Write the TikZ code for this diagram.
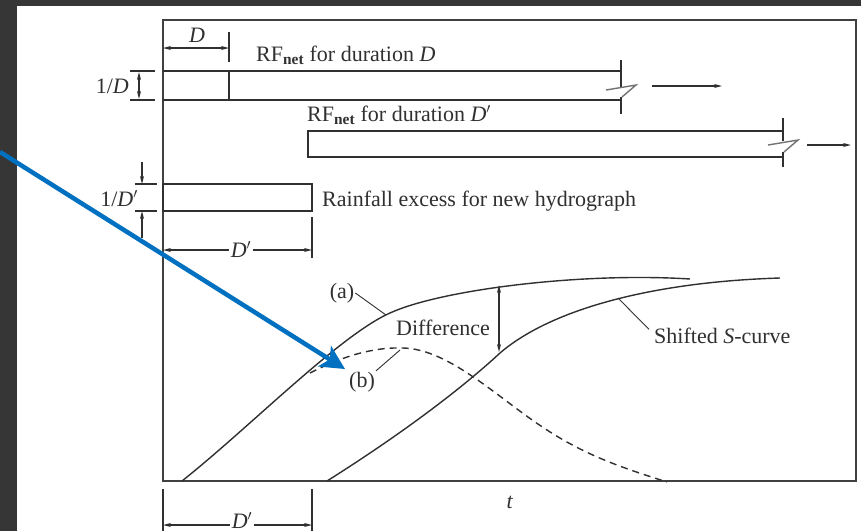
\documentclass[tikz,border=0pt]{standalone}
\usepackage{fontspec}
\setmainfont{Liberation Serif}
\usetikzlibrary{arrows.meta}
\definecolor{inkgray}{HTML}{303030}
\definecolor{pagedark}{HTML}{363636}
\definecolor{markblue}{HTML}{0070C0}

\tikzset{
  ink/.style={draw=inkgray, line width=1.4pt},
  leader/.style={draw=inkgray, line width=0.9pt},
  breakz/.style={draw=black!55, line width=1.4pt},
  dimarrow/.style={ink, {Stealth[length=8pt,width=4pt]}-{Stealth[length=8pt,width=4pt]}},
  onearrow/.style={ink, -{Stealth[length=8pt,width=4pt]}},
  lbl/.style={inner sep=1pt, text=inkgray},
}
\newcommand{\dprime}{\textit{D}$'$}

\begin{document}
\begin{tikzpicture}[x=1pt,y=-1pt,font=\fontsize{22}{24}\selectfont]
\useasboundingbox (0,0) rectangle (861,531);
\fill[pagedark] (0,0) rectangle (861,531);
\fill[white] (17,6) rectangle (861,531);
\draw[line width=1.8pt, draw=black!75] (163,20) rectangle (856,481);

% rainfall of duration D
\node[lbl, anchor=base] (dtop) at (197,42) {\textit{D}};
\coordinate (d0) at (163,48);
\coordinate (d1) at (229,48);
\draw[dimarrow] (d0) -- (d1);
\draw[ink] (229,32) -- (229,62);
\draw[ink] (229,71) -- (229,100);
\node[lbl, anchor=base west] (rfd) at (255,61) {RF\textsubscript{\textbf{net}} for duration \textit{D}};
\draw[ink] (163,71) -- (621,71);
\draw[ink] (163,100) -- (621,100);
\draw[ink] (621,60) -- (621,87);
\draw[breakz] (606,90) -- (636,85) -- (622,97);
\draw[ink] (621,97) -- (621,114);
\coordinate (ra0) at (652,86);
\coordinate (ra1) at (722,86);
\draw[onearrow] (ra0) -- (ra1);
\node[lbl, anchor=base east] (hd) at (130,93) {1/\textit{D}};
\draw[ink] (130,71) -- (155,71);
\draw[ink] (130,100) -- (155,100);
\coordinate (hd0) at (139,72);
\coordinate (hd1) at (139,99);
\draw[dimarrow] (hd0) -- (hd1);

% rainfall of duration D'
\node[lbl, anchor=base west] (rfdd) at (306,121) {RF\textsubscript{\textbf{net}} for duration \dprime};
\draw[ink] (783,131) -- (308,131) -- (308,157) -- (783,157);
\draw[ink] (783,118) -- (783,141);
\draw[breakz] (768,145) -- (798,140) -- (784,152);
\draw[ink] (783,152) -- (783,167);
\coordinate (rb0) at (807,145);
\coordinate (rb1) at (851,145);
\draw[onearrow] (rb0) -- (rb1);

% rainfall excess
\draw[ink] (163,184) rectangle (312,211);
\node[lbl, anchor=base west] (rex) at (321,206) {Rainfall excess for new hydrograph};
\node[lbl, anchor=base east] (hdd) at (139,206) {1/\dprime};
\draw[ink] (135,184) -- (157,184);
\draw[ink] (135,211) -- (157,211);
\coordinate (u0) at (142,162);
\coordinate (u1) at (142,184);
\coordinate (v0) at (142,238);
\coordinate (v1) at (142,211);
\draw[onearrow] (u0) -- (u1);
\draw[onearrow] (v0) -- (v1);
\draw[ink] (312,217) -- (312,258);
\coordinate (e0) at (163,250);
\coordinate (e1) at (312,250);
\draw[dimarrow] (e0) -- (e1);
\node[lbl, anchor=base, fill=white, inner sep=2pt] (dmid) at (241,257) {\dprime};

% curves
\draw[ink] (182,481) .. controls (250,427) and (340,335) .. (390,313)
  .. controls (440,290) and (580,272) .. (690,279);
\draw[ink] (327,481) .. controls (400,435) and (460,390) .. (500,353)
  .. controls (550,310) and (650,282) .. (780,278);
\draw[ink, dashed, dash pattern=on 7pt off 5pt] (310,373) .. controls (345,355) and (375,347) .. (403,348)
  .. controls (450,349) and (500,400) .. (547,430)
  .. controls (590,458) and (630,470) .. (667,482);

\coordinate (ca) at (386,315);
\coordinate (cb) at (400,350);
\coordinate (cs) at (618,298);
\coordinate (dfa) at (499,285);
\coordinate (dfs) at (499,352);
\node[lbl] (la) at (342,293) {(a)};
\node[lbl] (lb) at (362,382) {(b)};
\node[lbl, anchor=base] (diff) at (443,335) {Difference};
\node[lbl, anchor=base west] (shift) at (653,343) {Shifted \textit{S}-curve};
\draw[leader] (la.east) -- (ca);
\draw[leader] (lb.north east) -- (cb);
\draw[leader] ([xshift=-4pt,yshift=6pt]shift.west) -- (cs);
\draw[dimarrow] (dfa) -- (dfs);

% time axis
\node[lbl, anchor=base] (tax) at (510,508) {\textit{t}};
\draw[ink] (163,489) -- (163,531);
\draw[ink] (312,489) -- (312,531);
\coordinate (f0) at (163,525);
\coordinate (f1) at (312,525);
\draw[dimarrow] (f0) -- (f1);
\node[lbl, anchor=base, fill=white, inner sep=2pt] (dbot) at (242,528) {\dprime};

% blue pointer
\coordinate (bp0) at (0,152);
\coordinate (bp1) at (345,369);
\draw[markblue, line width=4.5pt, -{Stealth[length=24pt,width=24pt,inset=6pt]}] (bp0) -- (bp1);
\end{tikzpicture}
\end{document}
